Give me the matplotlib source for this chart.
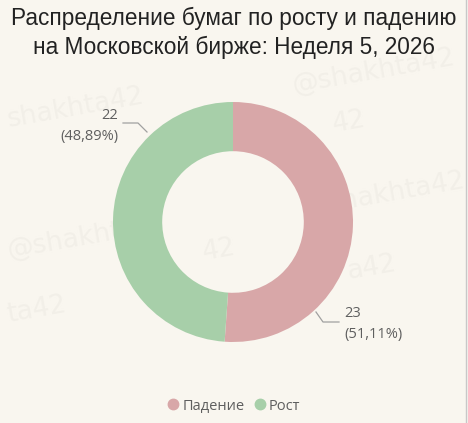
import numpy as np
import matplotlib.pyplot as plt
from matplotlib.lines import Line2D

# данные
categories = ['Падение', 'Рост']
counts = [23, 22]
shares = ['51,11%', '48,89%']
colors = ['#d8a7a8', '#a7cfa9']

title = 'Распределение бумаг по росту и падению\nна Московской бирже: Неделя 5, 2026'

W, H = 468, 423
cx, cy = 233, 222   # центр кольца, пиксели
R = 120.0

bg = '#f9f6ef'
plt.rcParams['font.family'] = ['Liberation Sans', 'DejaVu Sans']

fig = plt.figure(figsize=(W / 100, H / 100), dpi=100)
fig.patch.set_facecolor(bg)
ax = fig.add_axes([0, 0, 1, 1])
ax.set_facecolor(bg)

wedges, _ = ax.pie(counts, colors=colors, startangle=90, counterclock=False,
                   radius=1.0, wedgeprops=dict(width=0.41, linewidth=0))
ax.set_aspect('auto')
ax.set_xlim(-cx / R, (W - cx) / R)
ax.set_ylim(-(H - cy) / R, cy / R)
ax.axis('off')


def px(x, y):
    # пиксели картинки -> координаты данных
    return (x - cx) / R, (cy - y) / R


# водяные знаки (бледные)
for (wx, wy, s) in [(290, 72, '@shakhta42'), (5, 108, 'shakhta42'), (330, 122, '42'),
                    (300, 195, '@shakhta42'), (5, 240, '@shakhta'), (5, 310, 'ta42'),
                    (345, 268, 'a42'), (200, 250, '42')]:
    ax.text(*px(wx, wy), s, fontsize=19, color='#f2efe8', rotation=10,
            ha='left', va='center', zorder=0, family='DejaVu Sans')

label_font = ['Open Sans', 'DejaVu Sans']
lab_col = '#5f5f5f'
line_col = '#a0a0a0'

# Рост (слева сверху)
xs, ys = zip(*[px(123, 123), px(138, 123), px(147, 132)])
ax.add_line(Line2D(xs, ys, color=line_col, lw=0.9))
ax.text(*px(118, 126), f'{counts[1]}\n({shares[1]})', ha='right', va='center',
        fontsize=10.5, color=lab_col, family=label_font, linespacing=1.5)

# Падение (справа снизу)
xs, ys = zip(*[px(316, 312), px(323, 322), px(339, 322)])
ax.add_line(Line2D(xs, ys, color=line_col, lw=0.9))
ax.text(*px(344, 324), f'{counts[0]}\n({shares[0]})', ha='left', va='center',
        fontsize=10.5, color=lab_col, family=label_font, linespacing=1.5)

# заголовок
fig.text(0.5, 1 - 33 / H, title, ha='center', va='center', fontsize=16.3,
         color='#222222', linespacing=1.3)

# легенда
handles = [Line2D([], [], marker='o', ls='', markersize=7.5, color=c) for c in colors]
leg = fig.legend(handles, categories, loc='center', bbox_to_anchor=(0.5, 1 - 406 / H),
                 ncol=2, frameon=False, handlelength=0.8, handletextpad=0.25,
                 columnspacing=0.6, prop={'family': label_font, 'size': 10.5})
for t in leg.get_texts():
    t.set_color(lab_col)

fig.add_artist(Line2D([1 - 2 / W, 1 - 2 / W], [0, 1], color='#c8c8c8', lw=1))

fig.savefig('out.png', dpi=100, facecolor=bg)
